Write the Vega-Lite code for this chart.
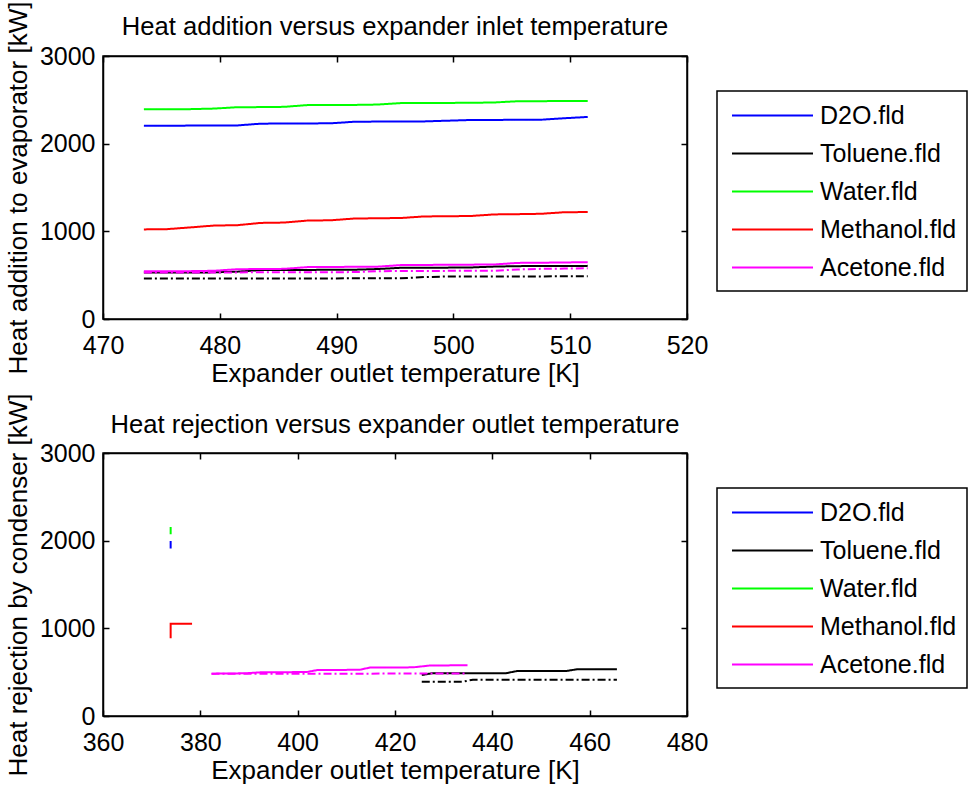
{
  "$schema": "https://vega.github.io/schema/vega-lite/v6.json",
  "background": "white",
  "padding": {"left": 4, "top": 0, "right": 0, "bottom": 0},
  "config": {
    "font": "Liberation Sans",
    "view": {"stroke": "black", "strokeWidth": 1.5},
    "axis": {"grid": false, "domainColor": "black", "domainWidth": 1.5, "tickColor": "black", "tickWidth": 1.5, "tickSize": -6, "labelColor": "black", "labelFont": "Liberation Sans", "labelFontSize": 25, "labelFlush": false, "labelOverlap": false, "titleFont": "Liberation Sans", "titleFontSize": 26, "titleFontWeight": "normal", "titleColor": "black", "labelPadding": 14, "format": "d"},
    "axisX": {"titlePadding": 2, "labelPadding": 20},
    "axisY": {"titlePadding": 8},
    "title": {"font": "Liberation Sans", "fontSize": 25.6, "fontWeight": "normal", "color": "black", "offset": 10, "frame": "group"},
    "legend": {"orient": "none", "legendX": 614, "legendY": 35, "strokeColor": "black", "strokeWidth": 1.5, "fillColor": "white", "padding": 10, "symbolType": "M-3,0H3", "symbolSize": 729, "symbolStrokeWidth": 2, "symbolOffset": 31, "labelFont": "Liberation Sans", "labelFontSize": 25, "labelColor": "black", "labelOffset": 33, "rowPadding": 10, "labelLimit": 300}
  },
  "datasets": {
    "top": [
      {"f":"D2O.fld","s":"solid","i":0,"t":473.5,"q":2205},{"f":"D2O.fld","s":"solid","i":1,"t":475.5,"q":2205},{"f":"D2O.fld","s":"solid","i":2,"t":477.5,"q":2206},{"f":"D2O.fld","s":"solid","i":3,"t":479.5,"q":2207},{"f":"D2O.fld","s":"solid","i":4,"t":481.5,"q":2208},{"f":"D2O.fld","s":"solid","i":5,"t":483.5,"q":2228},{"f":"D2O.fld","s":"solid","i":6,"t":485.5,"q":2230},{"f":"D2O.fld","s":"solid","i":7,"t":487.5,"q":2231},{"f":"D2O.fld","s":"solid","i":8,"t":489.5,"q":2232},{"f":"D2O.fld","s":"solid","i":9,"t":491.5,"q":2250},{"f":"D2O.fld","s":"solid","i":10,"t":493.5,"q":2252},{"f":"D2O.fld","s":"solid","i":11,"t":495.5,"q":2253},{"f":"D2O.fld","s":"solid","i":12,"t":497.5,"q":2254},{"f":"D2O.fld","s":"solid","i":13,"t":499.5,"q":2262},{"f":"D2O.fld","s":"solid","i":14,"t":501.5,"q":2270},{"f":"D2O.fld","s":"solid","i":15,"t":503.5,"q":2271},{"f":"D2O.fld","s":"solid","i":16,"t":505.5,"q":2272},{"f":"D2O.fld","s":"solid","i":17,"t":507.5,"q":2273},{"f":"D2O.fld","s":"solid","i":18,"t":509.5,"q":2290},{"f":"D2O.fld","s":"solid","i":19,"t":511.5,"q":2305},
      {"f":"Toluene.fld","s":"solid","i":0,"t":473.5,"q":530},{"f":"Toluene.fld","s":"solid","i":1,"t":475.5,"q":530},{"f":"Toluene.fld","s":"solid","i":2,"t":477.5,"q":531},{"f":"Toluene.fld","s":"solid","i":3,"t":479.5,"q":532},{"f":"Toluene.fld","s":"solid","i":4,"t":481.5,"q":540},{"f":"Toluene.fld","s":"solid","i":5,"t":483.5,"q":558},{"f":"Toluene.fld","s":"solid","i":6,"t":485.5,"q":559},{"f":"Toluene.fld","s":"solid","i":7,"t":487.5,"q":560},{"f":"Toluene.fld","s":"solid","i":8,"t":489.5,"q":561},{"f":"Toluene.fld","s":"solid","i":9,"t":491.5,"q":562},{"f":"Toluene.fld","s":"solid","i":10,"t":493.5,"q":570},{"f":"Toluene.fld","s":"solid","i":11,"t":495.5,"q":584},{"f":"Toluene.fld","s":"solid","i":12,"t":497.5,"q":585},{"f":"Toluene.fld","s":"solid","i":13,"t":499.5,"q":586},{"f":"Toluene.fld","s":"solid","i":14,"t":501.5,"q":588},{"f":"Toluene.fld","s":"solid","i":15,"t":503.5,"q":598},{"f":"Toluene.fld","s":"solid","i":16,"t":505.5,"q":603},{"f":"Toluene.fld","s":"solid","i":17,"t":507.5,"q":604},{"f":"Toluene.fld","s":"solid","i":18,"t":509.5,"q":605},{"f":"Toluene.fld","s":"solid","i":19,"t":511.5,"q":606},
      {"f":"Toluene.fld","s":"dd","i":0,"t":473.5,"q":462},{"f":"Toluene.fld","s":"dd","i":1,"t":475.5,"q":462},{"f":"Toluene.fld","s":"dd","i":2,"t":477.5,"q":462},{"f":"Toluene.fld","s":"dd","i":3,"t":479.5,"q":462},{"f":"Toluene.fld","s":"dd","i":4,"t":481.5,"q":463},{"f":"Toluene.fld","s":"dd","i":5,"t":483.5,"q":463},{"f":"Toluene.fld","s":"dd","i":6,"t":485.5,"q":463},{"f":"Toluene.fld","s":"dd","i":7,"t":487.5,"q":463},{"f":"Toluene.fld","s":"dd","i":8,"t":489.5,"q":463},{"f":"Toluene.fld","s":"dd","i":9,"t":491.5,"q":464},{"f":"Toluene.fld","s":"dd","i":10,"t":493.5,"q":464},{"f":"Toluene.fld","s":"dd","i":11,"t":495.5,"q":464},{"f":"Toluene.fld","s":"dd","i":12,"t":497.5,"q":478},{"f":"Toluene.fld","s":"dd","i":13,"t":499.5,"q":485},{"f":"Toluene.fld","s":"dd","i":14,"t":501.5,"q":485},{"f":"Toluene.fld","s":"dd","i":15,"t":503.5,"q":486},{"f":"Toluene.fld","s":"dd","i":16,"t":505.5,"q":486},{"f":"Toluene.fld","s":"dd","i":17,"t":507.5,"q":486},{"f":"Toluene.fld","s":"dd","i":18,"t":509.5,"q":487},{"f":"Toluene.fld","s":"dd","i":19,"t":511.5,"q":487},
      {"f":"Water.fld","s":"solid","i":0,"t":473.5,"q":2393},{"f":"Water.fld","s":"solid","i":1,"t":475.5,"q":2393},{"f":"Water.fld","s":"solid","i":2,"t":477.5,"q":2394},{"f":"Water.fld","s":"solid","i":3,"t":479.5,"q":2400},{"f":"Water.fld","s":"solid","i":4,"t":481.5,"q":2416},{"f":"Water.fld","s":"solid","i":5,"t":483.5,"q":2417},{"f":"Water.fld","s":"solid","i":6,"t":485.5,"q":2420},{"f":"Water.fld","s":"solid","i":7,"t":487.5,"q":2440},{"f":"Water.fld","s":"solid","i":8,"t":489.5,"q":2441},{"f":"Water.fld","s":"solid","i":9,"t":491.5,"q":2442},{"f":"Water.fld","s":"solid","i":10,"t":493.5,"q":2446},{"f":"Water.fld","s":"solid","i":11,"t":495.5,"q":2463},{"f":"Water.fld","s":"solid","i":12,"t":497.5,"q":2464},{"f":"Water.fld","s":"solid","i":13,"t":499.5,"q":2465},{"f":"Water.fld","s":"solid","i":14,"t":501.5,"q":2466},{"f":"Water.fld","s":"solid","i":15,"t":503.5,"q":2470},{"f":"Water.fld","s":"solid","i":16,"t":505.5,"q":2484},{"f":"Water.fld","s":"solid","i":17,"t":507.5,"q":2485},{"f":"Water.fld","s":"solid","i":18,"t":509.5,"q":2486},{"f":"Water.fld","s":"solid","i":19,"t":511.5,"q":2486},
      {"f":"Methanol.fld","s":"solid","i":0,"t":473.5,"q":1022},{"f":"Methanol.fld","s":"solid","i":1,"t":475.5,"q":1025},{"f":"Methanol.fld","s":"solid","i":2,"t":477.5,"q":1045},{"f":"Methanol.fld","s":"solid","i":3,"t":479.5,"q":1066},{"f":"Methanol.fld","s":"solid","i":4,"t":481.5,"q":1070},{"f":"Methanol.fld","s":"solid","i":5,"t":483.5,"q":1096},{"f":"Methanol.fld","s":"solid","i":6,"t":485.5,"q":1100},{"f":"Methanol.fld","s":"solid","i":7,"t":487.5,"q":1123},{"f":"Methanol.fld","s":"solid","i":8,"t":489.5,"q":1126},{"f":"Methanol.fld","s":"solid","i":9,"t":491.5,"q":1146},{"f":"Methanol.fld","s":"solid","i":10,"t":493.5,"q":1149},{"f":"Methanol.fld","s":"solid","i":11,"t":495.5,"q":1152},{"f":"Methanol.fld","s":"solid","i":12,"t":497.5,"q":1170},{"f":"Methanol.fld","s":"solid","i":13,"t":499.5,"q":1172},{"f":"Methanol.fld","s":"solid","i":14,"t":501.5,"q":1175},{"f":"Methanol.fld","s":"solid","i":15,"t":503.5,"q":1193},{"f":"Methanol.fld","s":"solid","i":16,"t":505.5,"q":1196},{"f":"Methanol.fld","s":"solid","i":17,"t":507.5,"q":1200},{"f":"Methanol.fld","s":"solid","i":18,"t":509.5,"q":1218},{"f":"Methanol.fld","s":"solid","i":19,"t":511.5,"q":1220},
      {"f":"Acetone.fld","s":"solid","i":0,"t":473.5,"q":545},{"f":"Acetone.fld","s":"solid","i":1,"t":475.5,"q":545},{"f":"Acetone.fld","s":"solid","i":2,"t":477.5,"q":546},{"f":"Acetone.fld","s":"solid","i":3,"t":479.5,"q":550},{"f":"Acetone.fld","s":"solid","i":4,"t":481.5,"q":568},{"f":"Acetone.fld","s":"solid","i":5,"t":483.5,"q":570},{"f":"Acetone.fld","s":"solid","i":6,"t":485.5,"q":572},{"f":"Acetone.fld","s":"solid","i":7,"t":487.5,"q":592},{"f":"Acetone.fld","s":"solid","i":8,"t":489.5,"q":594},{"f":"Acetone.fld","s":"solid","i":9,"t":491.5,"q":595},{"f":"Acetone.fld","s":"solid","i":10,"t":493.5,"q":597},{"f":"Acetone.fld","s":"solid","i":11,"t":495.5,"q":615},{"f":"Acetone.fld","s":"solid","i":12,"t":497.5,"q":617},{"f":"Acetone.fld","s":"solid","i":13,"t":499.5,"q":618},{"f":"Acetone.fld","s":"solid","i":14,"t":501.5,"q":620},{"f":"Acetone.fld","s":"solid","i":15,"t":503.5,"q":622},{"f":"Acetone.fld","s":"solid","i":16,"t":505.5,"q":640},{"f":"Acetone.fld","s":"solid","i":17,"t":507.5,"q":642},{"f":"Acetone.fld","s":"solid","i":18,"t":509.5,"q":645},{"f":"Acetone.fld","s":"solid","i":19,"t":511.5,"q":648},
      {"f":"Acetone.fld","s":"dd","i":0,"t":473.5,"q":530},{"f":"Acetone.fld","s":"dd","i":1,"t":475.5,"q":530},{"f":"Acetone.fld","s":"dd","i":2,"t":477.5,"q":530},{"f":"Acetone.fld","s":"dd","i":3,"t":479.5,"q":531},{"f":"Acetone.fld","s":"dd","i":4,"t":481.5,"q":531},{"f":"Acetone.fld","s":"dd","i":5,"t":483.5,"q":533},{"f":"Acetone.fld","s":"dd","i":6,"t":485.5,"q":533},{"f":"Acetone.fld","s":"dd","i":7,"t":487.5,"q":534},{"f":"Acetone.fld","s":"dd","i":8,"t":489.5,"q":534},{"f":"Acetone.fld","s":"dd","i":9,"t":491.5,"q":535},{"f":"Acetone.fld","s":"dd","i":10,"t":493.5,"q":545},{"f":"Acetone.fld","s":"dd","i":11,"t":495.5,"q":548},{"f":"Acetone.fld","s":"dd","i":12,"t":497.5,"q":548},{"f":"Acetone.fld","s":"dd","i":13,"t":499.5,"q":549},{"f":"Acetone.fld","s":"dd","i":14,"t":501.5,"q":549},{"f":"Acetone.fld","s":"dd","i":15,"t":503.5,"q":550},{"f":"Acetone.fld","s":"dd","i":16,"t":505.5,"q":565},{"f":"Acetone.fld","s":"dd","i":17,"t":507.5,"q":572},{"f":"Acetone.fld","s":"dd","i":18,"t":509.5,"q":575},{"f":"Acetone.fld","s":"dd","i":19,"t":511.5,"q":578}
    ],
    "bottom": [
      {"f":"D2O.fld","s":"solid","i":0,"t":373.9,"q":1912},{"f":"D2O.fld","s":"solid","i":1,"t":373.9,"q":1995},
      {"f":"Toluene.fld","s":"solid","i":0,"t":425.5,"q":467},{"f":"Toluene.fld","s":"solid","i":1,"t":427.5,"q":487},{"f":"Toluene.fld","s":"solid","i":2,"t":432,"q":487},{"f":"Toluene.fld","s":"solid","i":3,"t":437,"q":488},{"f":"Toluene.fld","s":"solid","i":4,"t":442.9,"q":489},{"f":"Toluene.fld","s":"solid","i":5,"t":445,"q":512},{"f":"Toluene.fld","s":"solid","i":6,"t":450,"q":512},{"f":"Toluene.fld","s":"solid","i":7,"t":455.3,"q":514},{"f":"Toluene.fld","s":"solid","i":8,"t":457.3,"q":532},{"f":"Toluene.fld","s":"solid","i":9,"t":461,"q":532},{"f":"Toluene.fld","s":"solid","i":10,"t":465.6,"q":533},
      {"f":"Toluene.fld","s":"dd","i":0,"t":425.5,"q":391},{"f":"Toluene.fld","s":"dd","i":1,"t":430,"q":391},{"f":"Toluene.fld","s":"dd","i":2,"t":434,"q":392},{"f":"Toluene.fld","s":"dd","i":3,"t":436,"q":414},{"f":"Toluene.fld","s":"dd","i":4,"t":445,"q":414},{"f":"Toluene.fld","s":"dd","i":5,"t":455,"q":414},{"f":"Toluene.fld","s":"dd","i":6,"t":465.6,"q":414},
      {"f":"Water.fld","s":"solid","i":0,"t":373.9,"q":2072},{"f":"Water.fld","s":"solid","i":1,"t":373.9,"q":2155},
      {"f":"Methanol.fld","s":"solid","i":0,"t":373.9,"q":886},{"f":"Methanol.fld","s":"solid","i":1,"t":373.9,"q":970},{"f":"Methanol.fld","s":"solid","i":2,"t":373.9,"q":1052},{"f":"Methanol.fld","s":"solid","i":3,"t":378.3,"q":1052},
      {"f":"Acetone.fld","s":"solid","i":0,"t":382.3,"q":483},{"f":"Acetone.fld","s":"solid","i":1,"t":385,"q":484},{"f":"Acetone.fld","s":"solid","i":2,"t":387.5,"q":486},{"f":"Acetone.fld","s":"solid","i":3,"t":389.5,"q":488},{"f":"Acetone.fld","s":"solid","i":4,"t":392.3,"q":498},{"f":"Acetone.fld","s":"solid","i":5,"t":395,"q":499},{"f":"Acetone.fld","s":"solid","i":6,"t":398,"q":500},{"f":"Acetone.fld","s":"solid","i":7,"t":401.9,"q":502},{"f":"Acetone.fld","s":"solid","i":8,"t":404,"q":524},{"f":"Acetone.fld","s":"solid","i":9,"t":407,"q":525},{"f":"Acetone.fld","s":"solid","i":10,"t":410,"q":526},{"f":"Acetone.fld","s":"solid","i":11,"t":412.8,"q":528},{"f":"Acetone.fld","s":"solid","i":12,"t":414.9,"q":553},{"f":"Acetone.fld","s":"solid","i":13,"t":418,"q":553},{"f":"Acetone.fld","s":"solid","i":14,"t":421,"q":554},{"f":"Acetone.fld","s":"solid","i":15,"t":423.7,"q":555},{"f":"Acetone.fld","s":"solid","i":16,"t":427.2,"q":576},{"f":"Acetone.fld","s":"solid","i":17,"t":430,"q":577},{"f":"Acetone.fld","s":"solid","i":18,"t":432.5,"q":578},{"f":"Acetone.fld","s":"solid","i":19,"t":434.9,"q":578},
      {"f":"Acetone.fld","s":"dd","i":0,"t":382.3,"q":482},{"f":"Acetone.fld","s":"dd","i":1,"t":395,"q":482},{"f":"Acetone.fld","s":"dd","i":2,"t":410,"q":483},{"f":"Acetone.fld","s":"dd","i":3,"t":425,"q":484},{"f":"Acetone.fld","s":"dd","i":4,"t":434.9,"q":485}
    ]
  },
  "spacing": 134,
  "bounds": "flush",
  "resolve": {"scale": {"color": "independent", "strokeDash": "independent"}},
  "vconcat": [
    {
      "width": 584, "height": 263,
      "title": {"text": "Heat addition versus expander inlet temperature", "dy": 50},
      "data": {"name": "top"},
      "layer": [
        {
          "mark": {"type": "line", "strokeWidth": 2, "clip": true},
          "encoding": {
            "x": {"field": "t", "type": "quantitative", "scale": {"domain": [470, 520], "nice": false, "zero": false}, "axis": {"values": [470, 480, 490, 500, 510, 520], "title": "Expander outlet temperature [K]"}},
            "y": {"field": "q", "type": "quantitative", "scale": {"domain": [0, 3000], "nice": false}, "axis": {"values": [0, 1000, 2000, 3000], "title": "Heat addition to evaporator [kW]"}},
            "color": {"field": "f", "type": "nominal", "scale": {"domain": ["D2O.fld", "Toluene.fld", "Water.fld", "Methanol.fld", "Acetone.fld"], "range": ["#0000ff", "#000000", "#00ff00", "#ff0000", "#ff00ff"]}, "legend": {"title": null}},
            "strokeDash": {"field": "s", "type": "nominal", "scale": {"domain": ["solid", "dd"], "range": [[1, 0], [8, 3, 2, 3]]}, "legend": null},
            "order": {"field": "i", "type": "quantitative"}
          }
        },
        {
          "mark": {"type": "point", "opacity": 0},
          "encoding": {
            "x": {"field": "t", "type": "quantitative", "scale": {"domain": [470, 520], "nice": false, "zero": false}, "axis": {"orient": "top", "labels": false, "title": null, "values": [470, 480, 490, 500, 510, 520]}},
            "y": {"field": "q", "type": "quantitative", "scale": {"domain": [0, 3000], "nice": false}, "axis": {"orient": "right", "labels": false, "title": null, "values": [0, 1000, 2000, 3000]}}
          }
        }
      ],
      "resolve": {"axis": {"x": "independent", "y": "independent"}}
    },
    {
      "width": 584, "height": 263,
      "title": {"text": "Heat rejection versus expander outlet temperature", "dy": 56},
      "data": {"name": "bottom"},
      "layer": [
        {
          "mark": {"type": "line", "strokeWidth": 2, "clip": true},
          "encoding": {
            "x": {"field": "t", "type": "quantitative", "scale": {"domain": [360, 480], "nice": false, "zero": false}, "axis": {"values": [360, 380, 400, 420, 440, 460, 480], "title": "Expander outlet temperature [K]"}},
            "y": {"field": "q", "type": "quantitative", "scale": {"domain": [0, 3000], "nice": false}, "axis": {"values": [0, 1000, 2000, 3000], "title": "Heat rejection by condenser [kW]"}},
            "color": {"field": "f", "type": "nominal", "scale": {"domain": ["D2O.fld", "Toluene.fld", "Water.fld", "Methanol.fld", "Acetone.fld"], "range": ["#0000ff", "#000000", "#00ff00", "#ff0000", "#ff00ff"]}, "legend": {"title": null}},
            "strokeDash": {"field": "s", "type": "nominal", "scale": {"domain": ["solid", "dd"], "range": [[1, 0], [8, 3, 2, 3]]}, "legend": null},
            "order": {"field": "i", "type": "quantitative"}
          }
        },
        {
          "mark": {"type": "point", "opacity": 0},
          "encoding": {
            "x": {"field": "t", "type": "quantitative", "scale": {"domain": [360, 480], "nice": false, "zero": false}, "axis": {"orient": "top", "labels": false, "title": null, "values": [360, 380, 400, 420, 440, 460, 480]}},
            "y": {"field": "q", "type": "quantitative", "scale": {"domain": [0, 3000], "nice": false}, "axis": {"orient": "right", "labels": false, "title": null, "values": [0, 1000, 2000, 3000]}}
          }
        }
      ],
      "resolve": {"axis": {"x": "independent", "y": "independent"}}
    }
  ]
}
